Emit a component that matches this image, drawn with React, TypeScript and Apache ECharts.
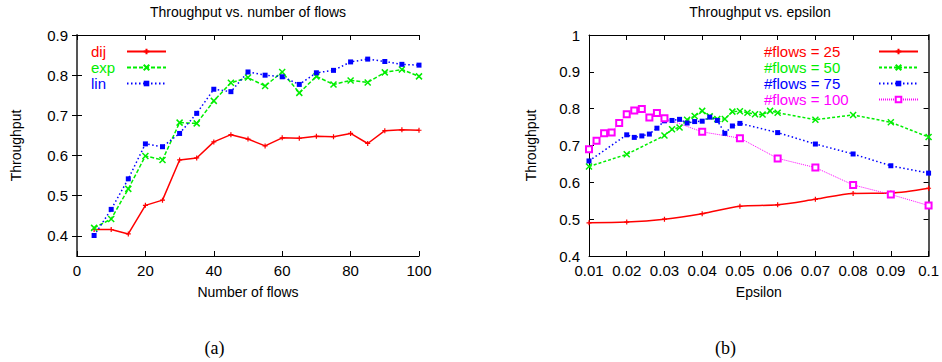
import React, { useEffect, useRef } from "react";
import * as echarts from "echarts";

// ---- Data: (a) Throughput vs. number of flows ----
const flowsX = [5, 10, 15, 20, 25, 30, 35, 40, 45, 50, 55, 60, 65, 70, 75, 80, 85, 90, 95, 100];
const dij = [0.416, 0.416, 0.405, 0.476, 0.489, 0.589, 0.594, 0.634, 0.652, 0.641, 0.624, 0.644, 0.643, 0.648, 0.647, 0.655, 0.630, 0.662, 0.664, 0.663];
const expV = [0.420, 0.442, 0.517, 0.599, 0.589, 0.682, 0.680, 0.736, 0.781, 0.794, 0.773, 0.808, 0.756, 0.797, 0.777, 0.787, 0.782, 0.807, 0.814, 0.797];
const lin = [0.401, 0.466, 0.542, 0.629, 0.622, 0.655, 0.705, 0.765, 0.759, 0.808, 0.800, 0.796, 0.777, 0.806, 0.812, 0.833, 0.840, 0.834, 0.827, 0.825];
const leftXTicks = [0, 20, 40, 60, 80, 100];
const leftYTicks = [0.4, 0.5, 0.6, 0.7, 0.8, 0.9];

// ---- Data: (b) Throughput vs. epsilon ----
const f25X = [0.01, 0.02, 0.03, 0.04, 0.05, 0.06, 0.07, 0.08, 0.09, 0.1];
const f25 = [0.490, 0.492, 0.500, 0.515, 0.535, 0.539, 0.554, 0.570, 0.571, 0.584];
const f50X = [0.01, 0.02, 0.03, 0.032, 0.034, 0.036, 0.038, 0.04, 0.042, 0.044, 0.046, 0.048, 0.05, 0.052, 0.054, 0.056, 0.058, 0.06, 0.07, 0.08, 0.09, 0.1];
const f50 = [0.643, 0.676, 0.727, 0.744, 0.749, 0.770, 0.780, 0.794, 0.779, 0.772, 0.772, 0.792, 0.793, 0.789, 0.785, 0.784, 0.794, 0.789, 0.770, 0.783, 0.763, 0.723];
const f75X = [0.01, 0.02, 0.022, 0.024, 0.026, 0.028, 0.03, 0.032, 0.034, 0.036, 0.038, 0.04, 0.042, 0.044, 0.046, 0.048, 0.05, 0.06, 0.07, 0.08, 0.09, 0.1];
const f75 = [0.658, 0.729, 0.722, 0.726, 0.731, 0.747, 0.767, 0.768, 0.771, 0.761, 0.765, 0.766, 0.777, 0.768, 0.733, 0.753, 0.760, 0.735, 0.704, 0.677, 0.645, 0.625];
const f100X = [0.01, 0.012, 0.014, 0.016, 0.018, 0.02, 0.022, 0.024, 0.026, 0.028, 0.03, 0.04, 0.05, 0.06, 0.07, 0.08, 0.09, 0.1];
const f100 = [0.690, 0.713, 0.733, 0.735, 0.761, 0.785, 0.795, 0.799, 0.776, 0.788, 0.774, 0.737, 0.720, 0.665, 0.640, 0.593, 0.567, 0.537];
const rightXTicks = [0.01, 0.02, 0.03, 0.04, 0.05, 0.06, 0.07, 0.08, 0.09, 0.1];
const rightYTicks = [0.4, 0.5, 0.6, 0.7, 0.8, 0.9, 1];

const SANS = "Liberation Sans, Arial, sans-serif";
const RED = "#ff0000";
const GREEN = "#00ee00";
const BLUE = "#0000ff";
const MAGENTA = "#ff00ff";
const PLUS = "path://M5 0L5 10M0 5L10 5";
const CROSS = "path://M0 0L10 10M0 10L10 0";

const zip = (xs: number[], ys: number[]) => xs.map((x, i) => [x, ys[i]]);
const fmt = (d: number) => (v: number) => String(+v.toFixed(d));

function App() {
  const ref = useRef<HTMLDivElement>(null);
  useEffect(() => {
    if (!ref.current) return;
    const chart = echarts.init(ref.current, null, { renderer: "svg" });
    const axisLine = { show: true, lineStyle: { color: "#000", width: 1 } };
    const rightLine = { show: true, lineStyle: { color: "#555", width: 2 } };
    const tick = (vals: number[]) => ({ show: true, inside: true, length: 5, lineStyle: { color: "#000" }, customValues: vals });
    const label = (vals: number[], d: number, margin: number) => ({
      show: true, customValues: vals, formatter: fmt(d), color: "#000", fontSize: 15, fontFamily: SANS, margin,
    });
    const nameStyle = { color: "#000", fontSize: 14, fontFamily: SANS };
    const noLabel = { show: false };
    const titleStyle = { fontSize: 14, fontWeight: "normal", color: "#000", fontFamily: SANS };

    const option: any = {
      animation: false,
      backgroundColor: "#fff",
      title: [
        { text: "Throughput vs. number of flows", left: 248, top: 5, textAlign: "center", padding: 0, textStyle: titleStyle },
        { text: "Throughput vs. epsilon", left: 760, top: 5, textAlign: "center", padding: 0, textStyle: titleStyle },
      ],
      grid: [
        { left: 77, top: 35, width: 342, height: 221, show: false },
        { left: 589, top: 35, width: 342, height: 221, show: false },
      ],
      xAxis: [
        { type: "value", gridIndex: 0, position: "bottom", min: 0, max: 100, axisLine, axisTick: tick(leftXTicks),
          axisLabel: label(leftXTicks, 0, 7), splitLine: { show: false },
          name: "Number of flows", nameLocation: "middle", nameGap: 29, nameTextStyle: nameStyle },
        { type: "value", gridIndex: 0, position: "top", min: 0, max: 100, axisLine, axisTick: tick(leftXTicks),
          axisLabel: noLabel, splitLine: { show: false } },
        { type: "value", gridIndex: 1, position: "bottom", min: 0.01, max: 0.1, axisLine, axisTick: tick(rightXTicks),
          axisLabel: label(rightXTicks, 2, 7), splitLine: { show: false },
          name: "Epsilon", nameLocation: "middle", nameGap: 29, nameTextStyle: nameStyle },
        { type: "value", gridIndex: 1, position: "top", min: 0.01, max: 0.1, axisLine, axisTick: tick(rightXTicks),
          axisLabel: noLabel, splitLine: { show: false } },
      ],
      yAxis: [
        { type: "value", gridIndex: 0, position: "left", min: 0.35, max: 0.9, axisLine, axisTick: tick(leftYTicks),
          axisLabel: label(leftYTicks, 1, 9), splitLine: { show: false },
          name: "Throughput", nameLocation: "middle", nameGap: 54, nameTextStyle: nameStyle },
        { type: "value", gridIndex: 0, position: "right", min: 0.35, max: 0.9, axisLine: rightLine, axisTick: tick(leftYTicks),
          axisLabel: noLabel, splitLine: { show: false } },
        { type: "value", gridIndex: 1, position: "left", min: 0.4, max: 1, axisLine, axisTick: tick(rightYTicks),
          axisLabel: label(rightYTicks, 1, 9), splitLine: { show: false },
          name: "Throughput", nameLocation: "middle", nameGap: 51, nameTextStyle: nameStyle },
        { type: "value", gridIndex: 1, position: "right", min: 0.4, max: 1, axisLine: rightLine, axisTick: tick(rightYTicks),
          axisLabel: noLabel, splitLine: { show: false } },
      ],
      legend: [
        {
          orient: "vertical", left: 86, top: 39, align: "right", itemWidth: 39, itemHeight: 7, itemGap: 1,
          data: [
            { name: "dij", textStyle: { color: RED } },
            { name: "exp", textStyle: { color: GREEN } },
            { name: "lin", textStyle: { color: BLUE } },
          ],
          formatter: (n: string) => `{a|${n}}`,
          textStyle: { fontSize: 15, fontFamily: SANS, rich: { a: { width: 31, align: "left", lineHeight: 14, fontSize: 15, fontFamily: SANS } } },
          selectedMode: false,
        },
        {
          orient: "vertical", left: 759, top: 39, align: "right", itemWidth: 39, itemHeight: 7, itemGap: 1,
          data: [
            { name: "#flows = 25", textStyle: { color: RED } },
            { name: "#flows = 50", textStyle: { color: GREEN } },
            { name: "#flows = 75", textStyle: { color: BLUE } },
            { name: "#flows = 100", textStyle: { color: MAGENTA } },
          ],
          formatter: (n: string) => `{a|${n}}`,
          textStyle: { fontSize: 15, fontFamily: SANS, rich: { a: { width: 110, align: "left", lineHeight: 14, fontSize: 15, fontFamily: SANS } } },
          selectedMode: false,
        },
      ],
      series: [
        { name: "dij", type: "line", xAxisIndex: 0, yAxisIndex: 0, data: zip(flowsX, dij),
          symbol: PLUS, symbolSize: 5, lineStyle: { color: RED, width: 1.5 },
          itemStyle: { color: RED, borderColor: RED, borderWidth: 1.2 } },
        { name: "exp", type: "line", xAxisIndex: 0, yAxisIndex: 0, data: zip(flowsX, expV),
          symbol: CROSS, symbolSize: 6, lineStyle: { color: GREEN, width: 1.5, type: [4, 2] },
          itemStyle: { color: GREEN, borderColor: GREEN, borderWidth: 1.5 } },
        { name: "lin", type: "line", xAxisIndex: 0, yAxisIndex: 0, data: zip(flowsX, lin),
          symbol: "rect", symbolSize: 5, lineStyle: { color: BLUE, width: 1.5, type: [1.5, 2.5] },
          itemStyle: { color: BLUE } },
        { name: "#flows = 25", type: "line", xAxisIndex: 2, yAxisIndex: 2, data: zip(f25X, f25), smooth: 0.3,
          symbol: PLUS, symbolSize: 5, lineStyle: { color: RED, width: 1.5 },
          itemStyle: { color: RED, borderColor: RED, borderWidth: 1.2 } },
        { name: "#flows = 50", type: "line", xAxisIndex: 2, yAxisIndex: 2, data: zip(f50X, f50),
          symbol: CROSS, symbolSize: 6, lineStyle: { color: GREEN, width: 1.5, type: [3, 2] },
          itemStyle: { color: GREEN, borderColor: GREEN, borderWidth: 1.5 } },
        { name: "#flows = 75", type: "line", xAxisIndex: 2, yAxisIndex: 2, data: zip(f75X, f75),
          symbol: "rect", symbolSize: 5, lineStyle: { color: BLUE, width: 1.5, type: [1.5, 2.5] },
          itemStyle: { color: BLUE } },
        { name: "#flows = 100", type: "line", xAxisIndex: 2, yAxisIndex: 2, data: zip(f100X, f100),
          symbol: "emptyRect", symbolSize: 6, lineStyle: { color: MAGENTA, width: 1, type: [1, 1] },
          itemStyle: { color: MAGENTA, borderColor: MAGENTA, borderWidth: 1.5 } },
      ],
      graphic: [
        { type: "text", x: 214.5, y: 348, style: { text: "(a)", fill: "#000", font: "18px 'Liberation Serif', serif", textAlign: "center", textVerticalAlign: "middle" } },
        { type: "text", x: 725.5, y: 348, style: { text: "(b)", fill: "#000", font: "18px 'Liberation Serif', serif", textAlign: "center", textVerticalAlign: "middle" } },
      ],
    };
    chart.setOption(option);
    return () => chart.dispose();
  }, []);
  return <div ref={ref} style={{ position: "fixed", left: 0, top: 0, width: 942, height: 362, background: "#fff" }} />;
}

export default App;
